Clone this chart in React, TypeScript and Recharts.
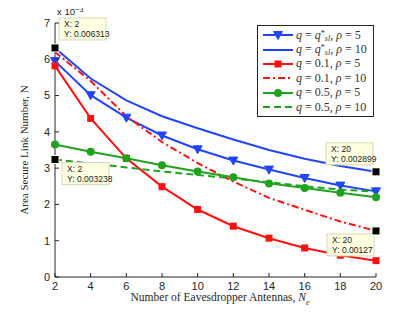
import React from "react";
import { LineChart, Line, XAxis, YAxis, ReferenceDot } from "recharts";

// values in units of 1e-3
const nE = [2, 4, 6, 8, 10, 12, 14, 16, 18, 20];
const qOptRho5 = [5.95, 5.01, 4.39, 3.9, 3.52, 3.21, 2.96, 2.73, 2.52, 2.36];
const qOptRho10 = [6.313, 5.47, 4.87, 4.43, 4.1, 3.79, 3.5, 3.26, 3.06, 2.899];
const q01Rho5 = [5.82, 4.37, 3.27, 2.49, 1.86, 1.4, 1.07, 0.8, 0.6, 0.45];
const q01Rho10 = [6.2, 5.4, 4.43, 3.72, 3.14, 2.63, 2.18, 1.85, 1.53, 1.27];
const q05Rho5 = [3.65, 3.45, 3.27, 3.08, 2.91, 2.75, 2.58, 2.45, 2.32, 2.2];
const q05Rho10 = [3.238, 3.13, 3.02, 2.91, 2.81, 2.72, 2.61, 2.5, 2.41, 2.35];

const xTicks = [2, 4, 6, 8, 10, 12, 14, 16, 18, 20];
const yTicks = [0, 1, 2, 3, 4, 5, 6, 7];

// datatips
const tipX = [2, 2, 20, 20];
const tipY = [6.313, 3.238, 2.899, 1.27];
const tipLabels = ["0.006313", "0.003238", "0.002899", "0.00127"];
const tipOffsets = [
  [4, -30],
  [7, 3],
  [-50, -29],
  [-49, 3],
];

const data = nE.map((n, i) => ({
  n,
  a: qOptRho5[i],
  b: qOptRho10[i],
  c: q01Rho5[i],
  d: q01Rho10[i],
  e: q05Rho5[i],
  f: q05Rho10[i],
}));

const BLUE = "#2145ff";
const RED = "#ff1010";
const GREEN = "#1fa31f";
const AXIS = "#262626";

const marker = (kind: string, color: string, cx: number, cy: number, key?: any) => {
  if (kind === "tri")
    return <path key={key} d={`M${cx - 4.5},${cy - 3.5}L${cx + 4.5},${cy - 3.5}L${cx},${cy + 4.5}Z`} fill={color} stroke={color} />;
  if (kind === "sq")
    return <rect key={key} x={cx - 3.5} y={cy - 3.5} width={7} height={7} fill={color} />;
  if (kind === "circ")
    return <circle key={key} cx={cx} cy={cy} r={4} fill={color} />;
  return <g key={key} />;
};

const script = (top: number) => ({ fontSize: 8, lineHeight: "6px", position: "relative" as const, top });

const QOpt = () => (
  <span>
    <i>q</i> = <i>q</i>
    <span style={script(-3)}>*</span>
    <span style={script(2)}><i>sl</i></span>
  </span>
);

const series = [
  { key: "a", color: BLUE, dash: undefined, mark: "tri", label: <><QOpt />, <i>ρ</i> = 5</> },
  { key: "b", color: BLUE, dash: undefined, mark: "none", label: <><QOpt />, <i>ρ</i> = 10</> },
  { key: "c", color: RED, dash: undefined, mark: "sq", label: <><i>q</i> = 0.1, <i>ρ</i> = 5</> },
  { key: "d", color: RED, dash: "7 3 2 3", mark: "none", label: <><i>q</i> = 0.1, <i>ρ</i> = 10</> },
  { key: "e", color: GREEN, dash: undefined, mark: "circ", label: <><i>q</i> = 0.5, <i>ρ</i> = 5</> },
  { key: "f", color: GREEN, dash: "7 4", mark: "none", label: <><i>q</i> = 0.5, <i>ρ</i> = 10</> },
];

const tickFont = { fontSize: 11, fontFamily: "Liberation Sans, Arial, sans-serif", fill: AXIS };

const BottomTick = (p: any) => {
  const axisY = p.y - 5;
  return (
    <g>
      <line x1={p.x} x2={p.x} y1={axisY} y2={axisY - 4} stroke={AXIS} />
      <text x={p.x} y={p.y} dy="0.71em" textAnchor="middle" {...tickFont}>{p.payload.value}</text>
    </g>
  );
};

const LeftTick = (p: any) => {
  const axisX = p.x + 5;
  return (
    <g>
      <line x1={axisX} x2={axisX + 4} y1={p.y} y2={p.y} stroke={AXIS} />
      <text x={p.x} y={p.y} dy="0.355em" textAnchor="end" {...tickFont}>{p.payload.value}</text>
    </g>
  );
};

const TipShape = (i: number) => (p: any) => {
  const { cx, cy } = p;
  const [dx, dy] = tipOffsets[i];
  return (
    <g>
      <rect x={cx + dx} y={cy + dy} width={47} height={22} fill="#ffffe1" stroke="#d8d8b8" />
      <text x={cx + dx + 5} y={cy + dy + 9} fontSize={8.5} fontFamily="Liberation Sans, Arial, sans-serif" fill="#222">X: {tipX[i]}</text>
      <text x={cx + dx + 5} y={cy + dy + 19} fontSize={8.5} fontFamily="Liberation Sans, Arial, sans-serif" fill="#222">Y: {tipLabels[i]}</text>
      <rect x={cx - 4.5} y={cy - 4.5} width={9} height={9} fill="#ffffe1" />
      <rect x={cx - 3.5} y={cy - 3.5} width={7} height={7} fill="#000" />
    </g>
  );
};

export default function App() {
  return (
    <div style={{ position: "relative", width: 399, height: 297 }}>
      <LineChart width={399} height={297} data={data} margin={{ top: 15, right: 31, left: 17, bottom: 8 }}>
        <XAxis dataKey="n" type="number" domain={[2, 20]} ticks={xTicks} tickLine={false} tickSize={0} tickMargin={5} height={20} stroke={AXIS} tick={<BottomTick />} />
        <XAxis xAxisId="top" orientation="top" type="number" domain={[2, 20]} ticks={xTicks} mirror tick={false} tickSize={4} height={0} stroke={AXIS} />
        <YAxis type="number" domain={[0, 7]} ticks={yTicks} tickLine={false} tickSize={0} tickMargin={5} width={30} stroke={AXIS} tick={<LeftTick />} />
        <YAxis yAxisId="right" orientation="right" type="number" domain={[0, 7]} ticks={yTicks} mirror tick={false} tickSize={4} width={0} stroke={AXIS} />
        {series.map((s) => (
          <Line
            key={s.key}
            dataKey={s.key}
            stroke={s.color}
            strokeWidth={2}
            strokeDasharray={s.dash}
            isAnimationActive={false}
            activeDot={false}
            dot={(p: any) => marker(s.mark, s.color, p.cx, p.cy, p.index)}
          />
        ))}
        {tipX.map((x, i) => (
          <ReferenceDot key={i} x={x} y={tipY[i]} r={4} shape={TipShape(i)} />
        ))}
      </LineChart>

      <div style={{ position: "absolute", left: 49, top: -2, fontSize: 9.5, lineHeight: "11px", fontFamily: "Liberation Sans, Arial, sans-serif", color: AXIS }}>
        x 10<span style={{ fontSize: 7.5, lineHeight: "7px", position: "relative", top: -3 }}>−3</span>
      </div>

      <div
        style={{
          position: "absolute",
          left: 16,
          top: 142,
          transform: "translate(-50%, -50%) rotate(-90deg)",
          whiteSpace: "nowrap",
          fontSize: 11,
          fontFamily: "Liberation Serif, serif",
          color: AXIS,
        }}
      >
        Area Secure Link Number, N
      </div>

      <div
        style={{
          position: "absolute",
          left: 212,
          top: 291,
          transform: "translate(-50%, -50%)",
          whiteSpace: "nowrap",
          fontSize: 11.5,
          fontFamily: "Liberation Serif, serif",
          color: AXIS,
        }}
      >
        Number of Eavesdropper Antennas, <i>N</i>
        <sub style={{ fontSize: 8 }}><i>e</i></sub>
      </div>

      <div
        style={{
          position: "absolute",
          left: 249,
          top: 17,
          width: 115,
          background: "#fff",
          border: `1px solid ${AXIS}`,
          padding: "2px 0",
          fontFamily: "Liberation Serif, serif",
          fontSize: 12,
          color: "#333",
        }}
      >
        {series.map((s) => (
          <div key={s.key} style={{ display: "flex", alignItems: "center", height: 14.4, lineHeight: "13px", whiteSpace: "nowrap" }}>
            <svg width={34} height={12} style={{ marginLeft: 4, flex: "none" }}>
              <line x1={1} x2={31} y1={6} y2={6} stroke={s.color} strokeWidth={2} strokeDasharray={s.dash} />
              {marker(s.mark, s.color, 16, 6)}
            </svg>
            <span>{s.label}</span>
          </div>
        ))}
      </div>
    </div>
  );
}
